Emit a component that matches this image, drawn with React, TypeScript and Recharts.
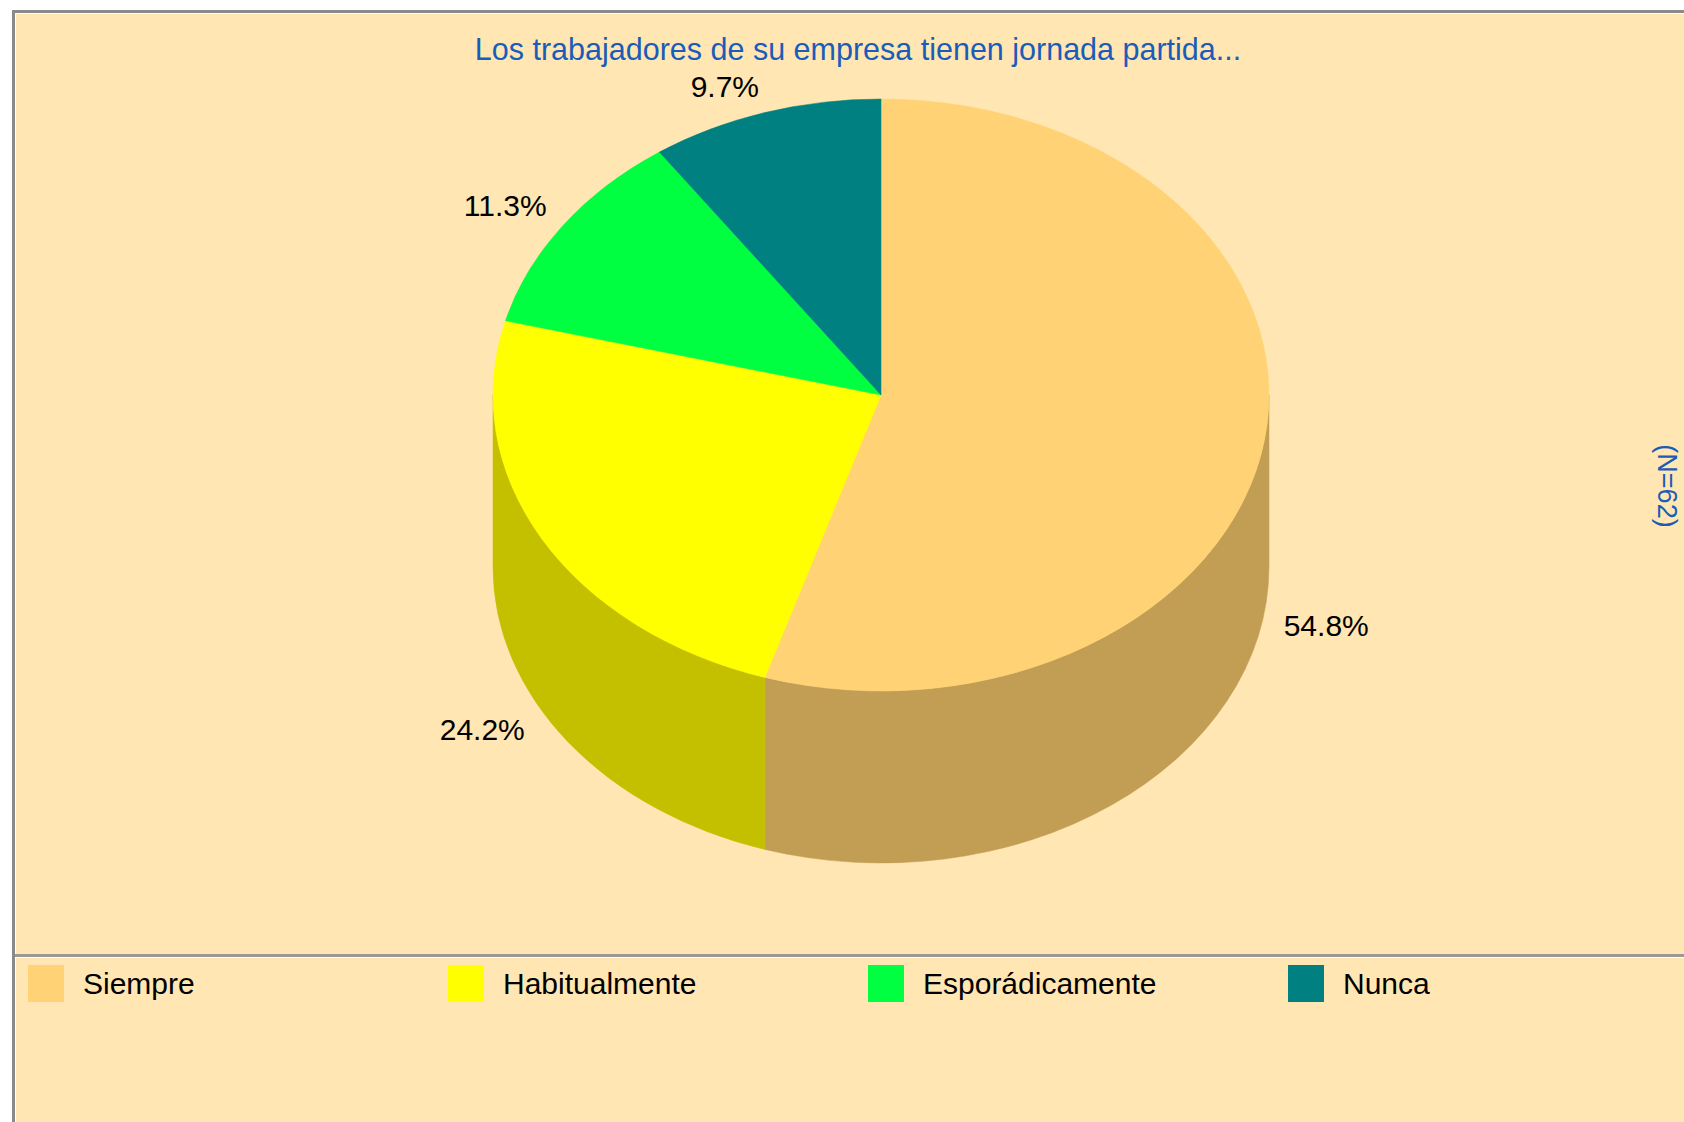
import React from 'react';
import { PieChart, Pie, Cell, Legend } from 'recharts';

const categories = ['Siempre', 'Habitualmente', 'Esporádicamente', 'Nunca'];
const counts = [34, 15, 7, 6];
const topColors = ['#FFD375', '#FFFF00', '#00FF40', '#008080'];
const sideColors = ['#C29E54', '#C4C000', '#00C030', '#006060'];
const titleText = 'Los trabajadores de su empresa tienen jornada partida...';
const sampleText = '(N=62)';

const data = categories.map((name, i) => ({ name, value: counts[i], side: sideColors[i] }));

const FONT = "'Liberation Sans', Arial, Helvetica, sans-serif";
const RAD = Math.PI / 180;
const RATIO = 296 / 388;
const DEPTH = 172;
const BG = '#FFE6B3';
const BLUE = '#1A5CB8';

function Slice3D(props: any) {
  const { cx, cy, outerRadius, startAngle, endAngle, fill } = props;
  const side = props.side ?? props.payload?.side ?? '#999';
  const rx = outerRadius;
  const ry = outerRadius * RATIO;
  const pt = (a: number, dy = 0) => [cx + rx * Math.cos(a * RAD), cy - ry * Math.sin(a * RAD) + dy];
  const sweep = endAngle < startAngle ? 1 : 0;
  const large = Math.abs(endAngle - startAngle) > 180 ? 1 : 0;
  const s = pt(startAngle);
  const e = pt(endAngle);
  const top = `M${cx},${cy} L${s[0]},${s[1]} A${rx},${ry} 0 ${large} ${sweep} ${e[0]},${e[1]} Z`;
  const hi = Math.max(startAngle, endAngle);
  const lo = Math.min(startAngle, endAngle);
  const walls: string[] = [];
  for (const k of [-1, 0, 1]) {
    const b1 = Math.min(hi, 360 * k);
    const b2 = Math.max(lo, -180 + 360 * k);
    if (b1 > b2) {
      const p1 = pt(b1);
      const p2 = pt(b2);
      const q2 = pt(b2, DEPTH);
      const q1 = pt(b1, DEPTH);
      walls.push(
        `M${p1[0]},${p1[1]} A${rx},${ry} 0 0 1 ${p2[0]},${p2[1]} L${q2[0]},${q2[1]} A${rx},${ry} 0 0 0 ${q1[0]},${q1[1]} Z`
      );
    }
  }
  return (
    <g>
      {walls.map((d, i) => (
        <path key={i} d={d} fill={side} stroke={side} strokeWidth={0.5} />
      ))}
      <path d={top} fill={fill} stroke={fill} strokeWidth={0.5} />
    </g>
  );
}

function renderLabel(props: any) {
  const { cx, cy, midAngle, outerRadius, percent } = props;
  const rx = outerRadius * 1.05;
  const ry = outerRadius * RATIO * 1.05;
  const c = Math.cos(midAngle * RAD);
  const sn = Math.sin(midAngle * RAD);
  const x = cx + rx * c;
  const y = cy - ry * sn + (sn < 0 ? DEPTH : 0);
  const ty = sn < 0 ? y + 22 : y - 1;
  return (
    <text x={x} y={ty} textAnchor={c >= 0 ? 'start' : 'end'} fontSize={30} fontFamily={FONT} fill="#000">
      {(percent * 100).toFixed(1) + '%'}
    </text>
  );
}

function renderLegend(props: any) {
  const payload = props.payload || [];
  const items = categories.map((name, i) => {
    const p = payload.find((q: any) => q.value === name);
    return { name, color: (p && p.color) || topColors[i] };
  });
  return (
    <div style={{ display: 'flex', fontFamily: FONT, fontSize: 30, color: '#000' }}>
      {items.map((it) => (
        <div key={it.name} style={{ width: 421, display: 'flex', alignItems: 'center', height: 37 }}>
          <div style={{ width: 36, height: 37, background: it.color, marginRight: 19 }} />
          <span style={{ lineHeight: '37px' }}>{it.name}</span>
        </div>
      ))}
    </div>
  );
}

export default function App() {
  return (
    <div style={{ position: 'absolute', left: 0, top: 0, width: 1684, height: 1122, background: '#fff', overflow: 'hidden' }}>
      <div
        style={{
          position: 'absolute',
          left: 12,
          top: 10,
          width: 1720,
          height: 1200,
          background: BG,
          borderTop: '3px solid #8A8A8A',
          borderLeft: '3px solid #8A8A8A',
          boxShadow: 'inset 1px 1px 0 #FFFFFF',
          boxSizing: 'border-box',
        }}
      />
      <div style={{ position: 'absolute', left: 15, top: 954, width: 1700, height: 3, background: '#999999' }} />
      <div style={{ position: 'absolute', left: 15, top: 957, width: 1700, height: 1, background: '#FFFFFF' }} />
      <div
        style={{
          position: 'absolute',
          left: 0,
          width: 1716,
          top: 31,
          textAlign: 'center',
          fontFamily: FONT,
          fontSize: 30.5,
          lineHeight: '36px',
          color: BLUE,
          whiteSpace: 'nowrap',
        }}
      >
        {titleText}
      </div>
      <div
        style={{
          position: 'absolute',
          left: 1667,
          top: 486,
          transform: 'translate(-50%, -50%) rotate(90deg)',
          fontFamily: FONT,
          fontSize: 27,
          lineHeight: '30px',
          color: BLUE,
          whiteSpace: 'nowrap',
        }}
      >
        {sampleText}
      </div>
      <div style={{ position: 'absolute', left: 0, top: 0 }}>
        <PieChart width={1684} height={1122} margin={{ top: 0, right: 0, bottom: 0, left: 0 }}>
          <Pie
            data={data}
            dataKey="value"
            nameKey="name"
            cx={881}
            cy={395}
            outerRadius={388}
            startAngle={90}
            endAngle={-270}
            stroke="none"
            isAnimationActive={false}
            activeShape={Slice3D}
            inactiveShape={Slice3D}
            shape={Slice3D}
            label={renderLabel}
            labelLine={false}
          >
            {data.map((d, i) => (
              <Cell key={d.name} fill={topColors[i]} />
            ))}
          </Pie>
          <Legend
            verticalAlign="bottom"
            align="left"
            layout="horizontal"
            content={renderLegend}
            wrapperStyle={{ position: 'absolute', left: 28, top: 965, bottom: 'auto', width: 1680, margin: 0 }}
          />
        </PieChart>
      </div>
    </div>
  );
}
